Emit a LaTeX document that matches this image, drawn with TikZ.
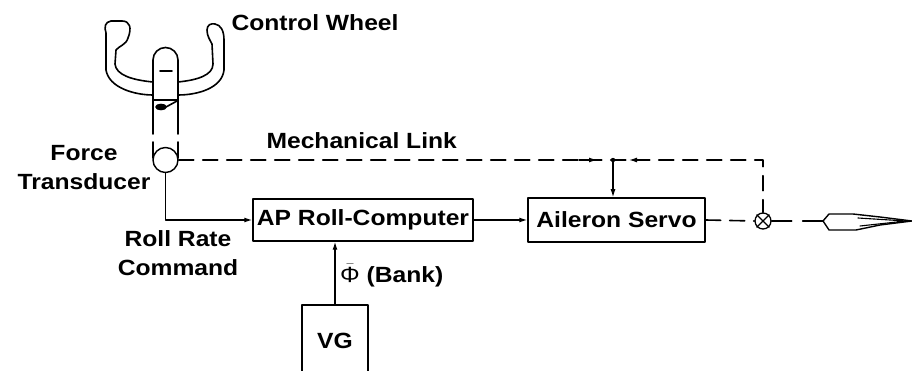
\documentclass[tikz,border=0pt]{standalone}
\usepackage{fontspec}
\setmainfont{Liberation Sans}[FakeStretch=1.12]
\usetikzlibrary{arrows.meta,positioning}

\begin{document}
\begin{tikzpicture}[x=1pt,y=-1pt,>={Latex[length=8pt,width=5pt]},line cap=round,line join=round,font=\bfseries\fontsize{22}{29}\selectfont]
\path[fill=white] (0,0) rectangle (912,371);
\useasboundingbox (0,0) rectangle (912,371);
\tikzset{wire/.style={draw=black,line width=1.2pt},link/.style={draw=black,line width=1.6pt,dash pattern=on 15pt off 9pt},blk/.style={draw=black,line width=1.5pt,inner sep=0pt},yoke/.style={draw=black,line width=1.6pt}}
% control wheel: arms, hub and column
\draw[yoke] (153,82) .. controls (132,80) and (116,75) .. (115,64) -- (116,50) .. controls (119,46) and (126,45) .. (128,38) .. controls (132,28) and (130,21) .. (122,21) -- (111,21) .. controls (105,22) and (104,27) .. (106,33) -- (106,70) .. controls (109,88) and (135,95) .. (153,95);
\draw[yoke] (178,82) .. controls (198,80) and (213,75) .. (213,64) -- (212,44) .. controls (210,40) and (207,36) .. (207,30) .. controls (207,25) and (211,23) .. (215,24) .. controls (221,25) and (224,31) .. (224,40) -- (224,70) .. controls (222,88) and (198,95) .. (178,95);
\draw[yoke] (153,134) -- (153,60) arc[start angle=180,end angle=360,radius=12.5] -- (178,134);
\draw[yoke] (160,71) -- (172,71);
\draw[yoke] (153,100) -- (178,100) (166,107) -- (177,101);
\draw[yoke,fill=black] (161,107) ellipse (5pt and 2.5pt);
\node[anchor=base west] (wheel) at (228,31) {Control Wheel};
% force transducer
\node[draw,circle,line width=1.4pt,minimum size=25pt,inner sep=0pt] (fxd) at (165.5,160) {};
\draw[yoke] (153,142) -- (153,158) (178,142) -- (178,158);
\node[anchor=north,align=center,inner sep=0pt] (fxdlbl) at (84,145) {Force\\Transducer};
% blocks
\node[blk,minimum width=220pt,minimum height=42pt] (apc) at (363,220) {AP Roll-Computer};
\node[blk,minimum width=177pt,minimum height=44pt] (srv) at (616.5,220) {Aileron Servo};
\node[blk,minimum width=66pt,minimum height=72pt] (vg) at (335,341) {VG};
\node[draw,circle,line width=1.3pt,minimum size=16pt,inner sep=0pt] (sum) at (763,221) {};
\draw[wire] (sum.north east) -- (sum.south west) (sum.north west) -- (sum.south east);
\coordinate (tap) at (613,160);
\coordinate (ail) at (823,221);
% signal paths
\draw[wire,->] (fxd.south) |- (apc.west);
\draw[wire,->] (apc.east) -- (srv.west);
\draw[wire,->] (vg.north) -- (vg.north |- apc.south);
\node[anchor=north,align=center,inner sep=0pt] (rate) at (178,230) {Roll Rate\\Command};
\node[anchor=base west,inner sep=0pt] (bank) at (340,282) {$\bar{\hbox{\mdseries Φ}}$ (Bank)};
% mechanical link
\draw[link] (fxd.east) -| (sum.north);
\node[anchor=base west] (mech) at (263,149) {Mechanical Link};
\draw[wire,->] ([xshift=-34pt]tap) -- ([xshift=-16pt]tap);
\draw[wire,->] ([xshift=34pt]tap) -- ([xshift=16pt]tap);
\draw[wire,->] (tap) -- (tap |- srv.north);
\fill (tap) circle (2.2pt);
\draw[link] (srv.east) -- (sum.west);
\draw[link,dash pattern=on 20pt off 11pt] (sum.east) -- (ail);
% aileron surface
\draw[yoke,line width=1.4pt] (ail) -- (829,214) -- (853,214) -- (880,217) -- (912,221) -- (880,225) -- (856,230) -- (829,230) -- cycle;
\draw[yoke,line width=1.1pt] (858,218) -- (906,221) -- (860,226);
\end{tikzpicture}
\end{document}
